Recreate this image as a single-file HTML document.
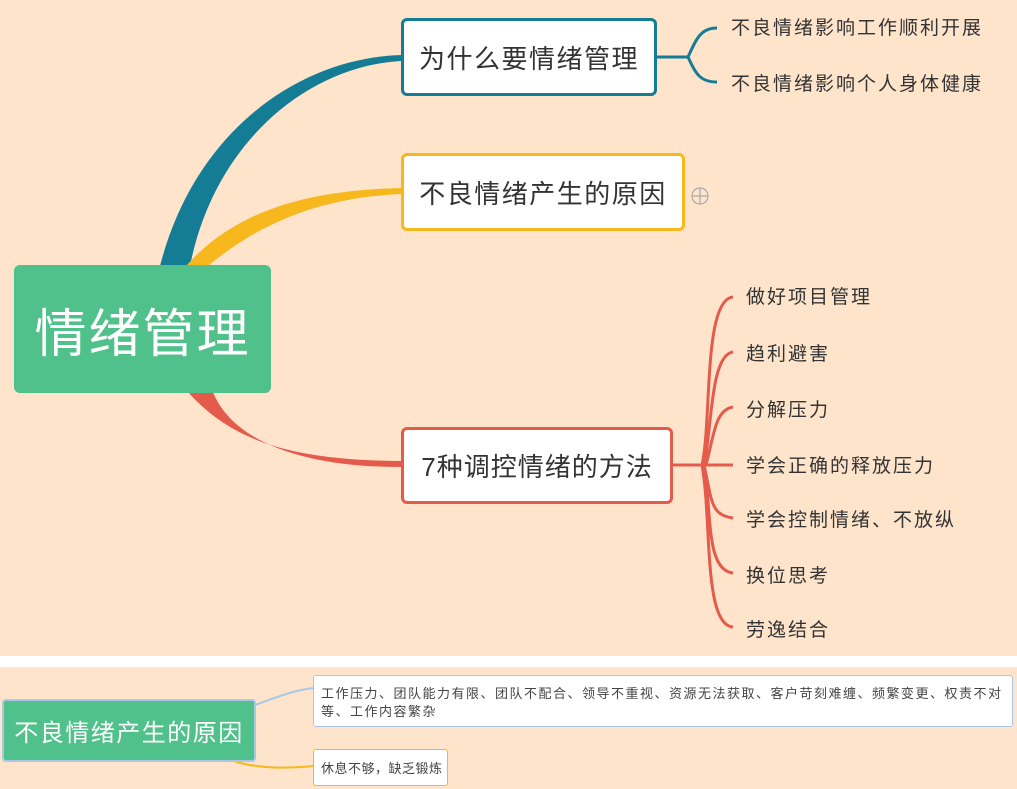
<!DOCTYPE html>
<html><head><meta charset="utf-8"><style>
html,body{margin:0;padding:0;background:#fee4cb;}
body{width:1017px;height:789px;overflow:hidden;position:relative;font-family:"Liberation Sans","Noto Sans CJK SC",sans-serif;}
.n{position:absolute;box-sizing:border-box;background:#fff;border-radius:6px;display:flex;align-items:center;justify-content:center;color:#333;}
.t{position:absolute;font-size:19px;letter-spacing:2px;color:#333;white-space:nowrap;line-height:1;}
</style></head><body>
<svg width="1017" height="789" style="position:absolute;left:0;top:0">
<rect x="0" y="656" width="1017" height="11" fill="#fff"/>
<path d="M160 266 C195 130 300 58 401 55 L401 61 C310 66 215 140 190 266 Z" fill="#157c96"/>
<path d="M186 266 C240 205 320 190 401 188 L401 194 C330 197 265 218 208 266 Z" fill="#f6b81c"/>
<path d="M188 392 C235 445 300 460 401 461 L401 467 C300 467 232 440 213 392 Z" fill="#e45b4c"/>
<g fill="none" stroke="#157c96" stroke-width="3">
<path d="M656 57 L688 57"/>
<path d="M688 57 C696 40 700 28 717 28"/>
<path d="M688 57 C696 74 700 82 717 82"/>
</g>
<g fill="none" stroke="#e45b4c" stroke-width="3">
<path d="M672 465 L733 465"/>
<path d="M702 465 C712 420 703 300 733 297"/>
<path d="M704 465 C712 430 710 355 733 352"/>
<path d="M706 465 C714 435 715 410 733 407"/>
<path d="M704 465 C712 500 710 515 733 518"/>
<path d="M704 465 C712 510 705 570 733 573"/>
<path d="M702 465 C712 520 703 625 733 627"/>
</g>
<circle cx="700" cy="196" r="8" fill="none" stroke="#aaa" stroke-width="1.2"/>
<path d="M692 196 H708 M700 188 V204" stroke="#aaa" stroke-width="1.2"/>
<path d="M255 705 C280 696 295 690 314 688" fill="none" stroke="#a9c8e8" stroke-width="2"/>
<path d="M230 760 C260 770 290 768 314 766" fill="none" stroke="#f6b81c" stroke-width="2"/>
</svg>
<div class="n" style="left:14px;top:265px;width:257px;height:128px;background:#51c18b;color:#fff;font-size:52px;letter-spacing:2px;border-radius:6px">情绪管理</div>
<div class="n" style="left:401px;top:18px;width:256px;height:78px;border:3px solid #157c96;font-size:26px;letter-spacing:1.5px">为什么要情绪管理</div>
<div class="n" style="left:401px;top:153px;width:284px;height:78px;border:3px solid #f6b81c;font-size:26px;letter-spacing:1.5px">不良情绪产生的原因</div>
<div class="n" style="left:401px;top:427px;width:272px;height:77px;border:3px solid #e45b4c;font-size:26px;letter-spacing:1px">7种调控情绪的方法</div>
<div class="t" style="left:731px;top:19px">不良情绪影响工作顺利开展</div>
<div class="t" style="left:731px;top:75px">不良情绪影响个人身体健康</div>
<div class="t" style="left:746px;top:288px">做好项目管理</div>
<div class="t" style="left:746px;top:345px">趋利避害</div>
<div class="t" style="left:746px;top:401px">分解压力</div>
<div class="t" style="left:746px;top:457px">学会正确的释放压力</div>
<div class="t" style="left:746px;top:511px">学会控制情绪、不放纵</div>
<div class="t" style="left:746px;top:567px">换位思考</div>
<div class="t" style="left:746px;top:621px">劳逸结合</div>
<div class="n" style="left:2px;top:699px;width:254px;height:63px;background:#51c18b;color:#fff;font-size:24px;letter-spacing:1.5px;border:2px solid #a9c8e8;border-radius:4px">不良情绪产生的原因</div>
<div class="n" style="left:313px;top:675px;width:700px;height:52px;border:1.5px solid #a9c8e8;border-radius:3px;font-size:13px;letter-spacing:1.5px;justify-content:flex-start;align-items:flex-start;padding:9px 8px 0 7px;line-height:18px;color:#444">工作压力、团队能力有限、团队不配合、领导不重视、资源无法获取、客户苛刻难缠、频繁变更、权责不对等、工作内容繁杂</div>
<div class="n" style="left:313px;top:749px;width:135px;height:37px;border:1.5px solid #f6b81c;border-radius:3px;font-size:13px;letter-spacing:0.5px;justify-content:flex-start;padding-left:7px;color:#444">休息不够，缺乏锻炼</div>
</body></html>
